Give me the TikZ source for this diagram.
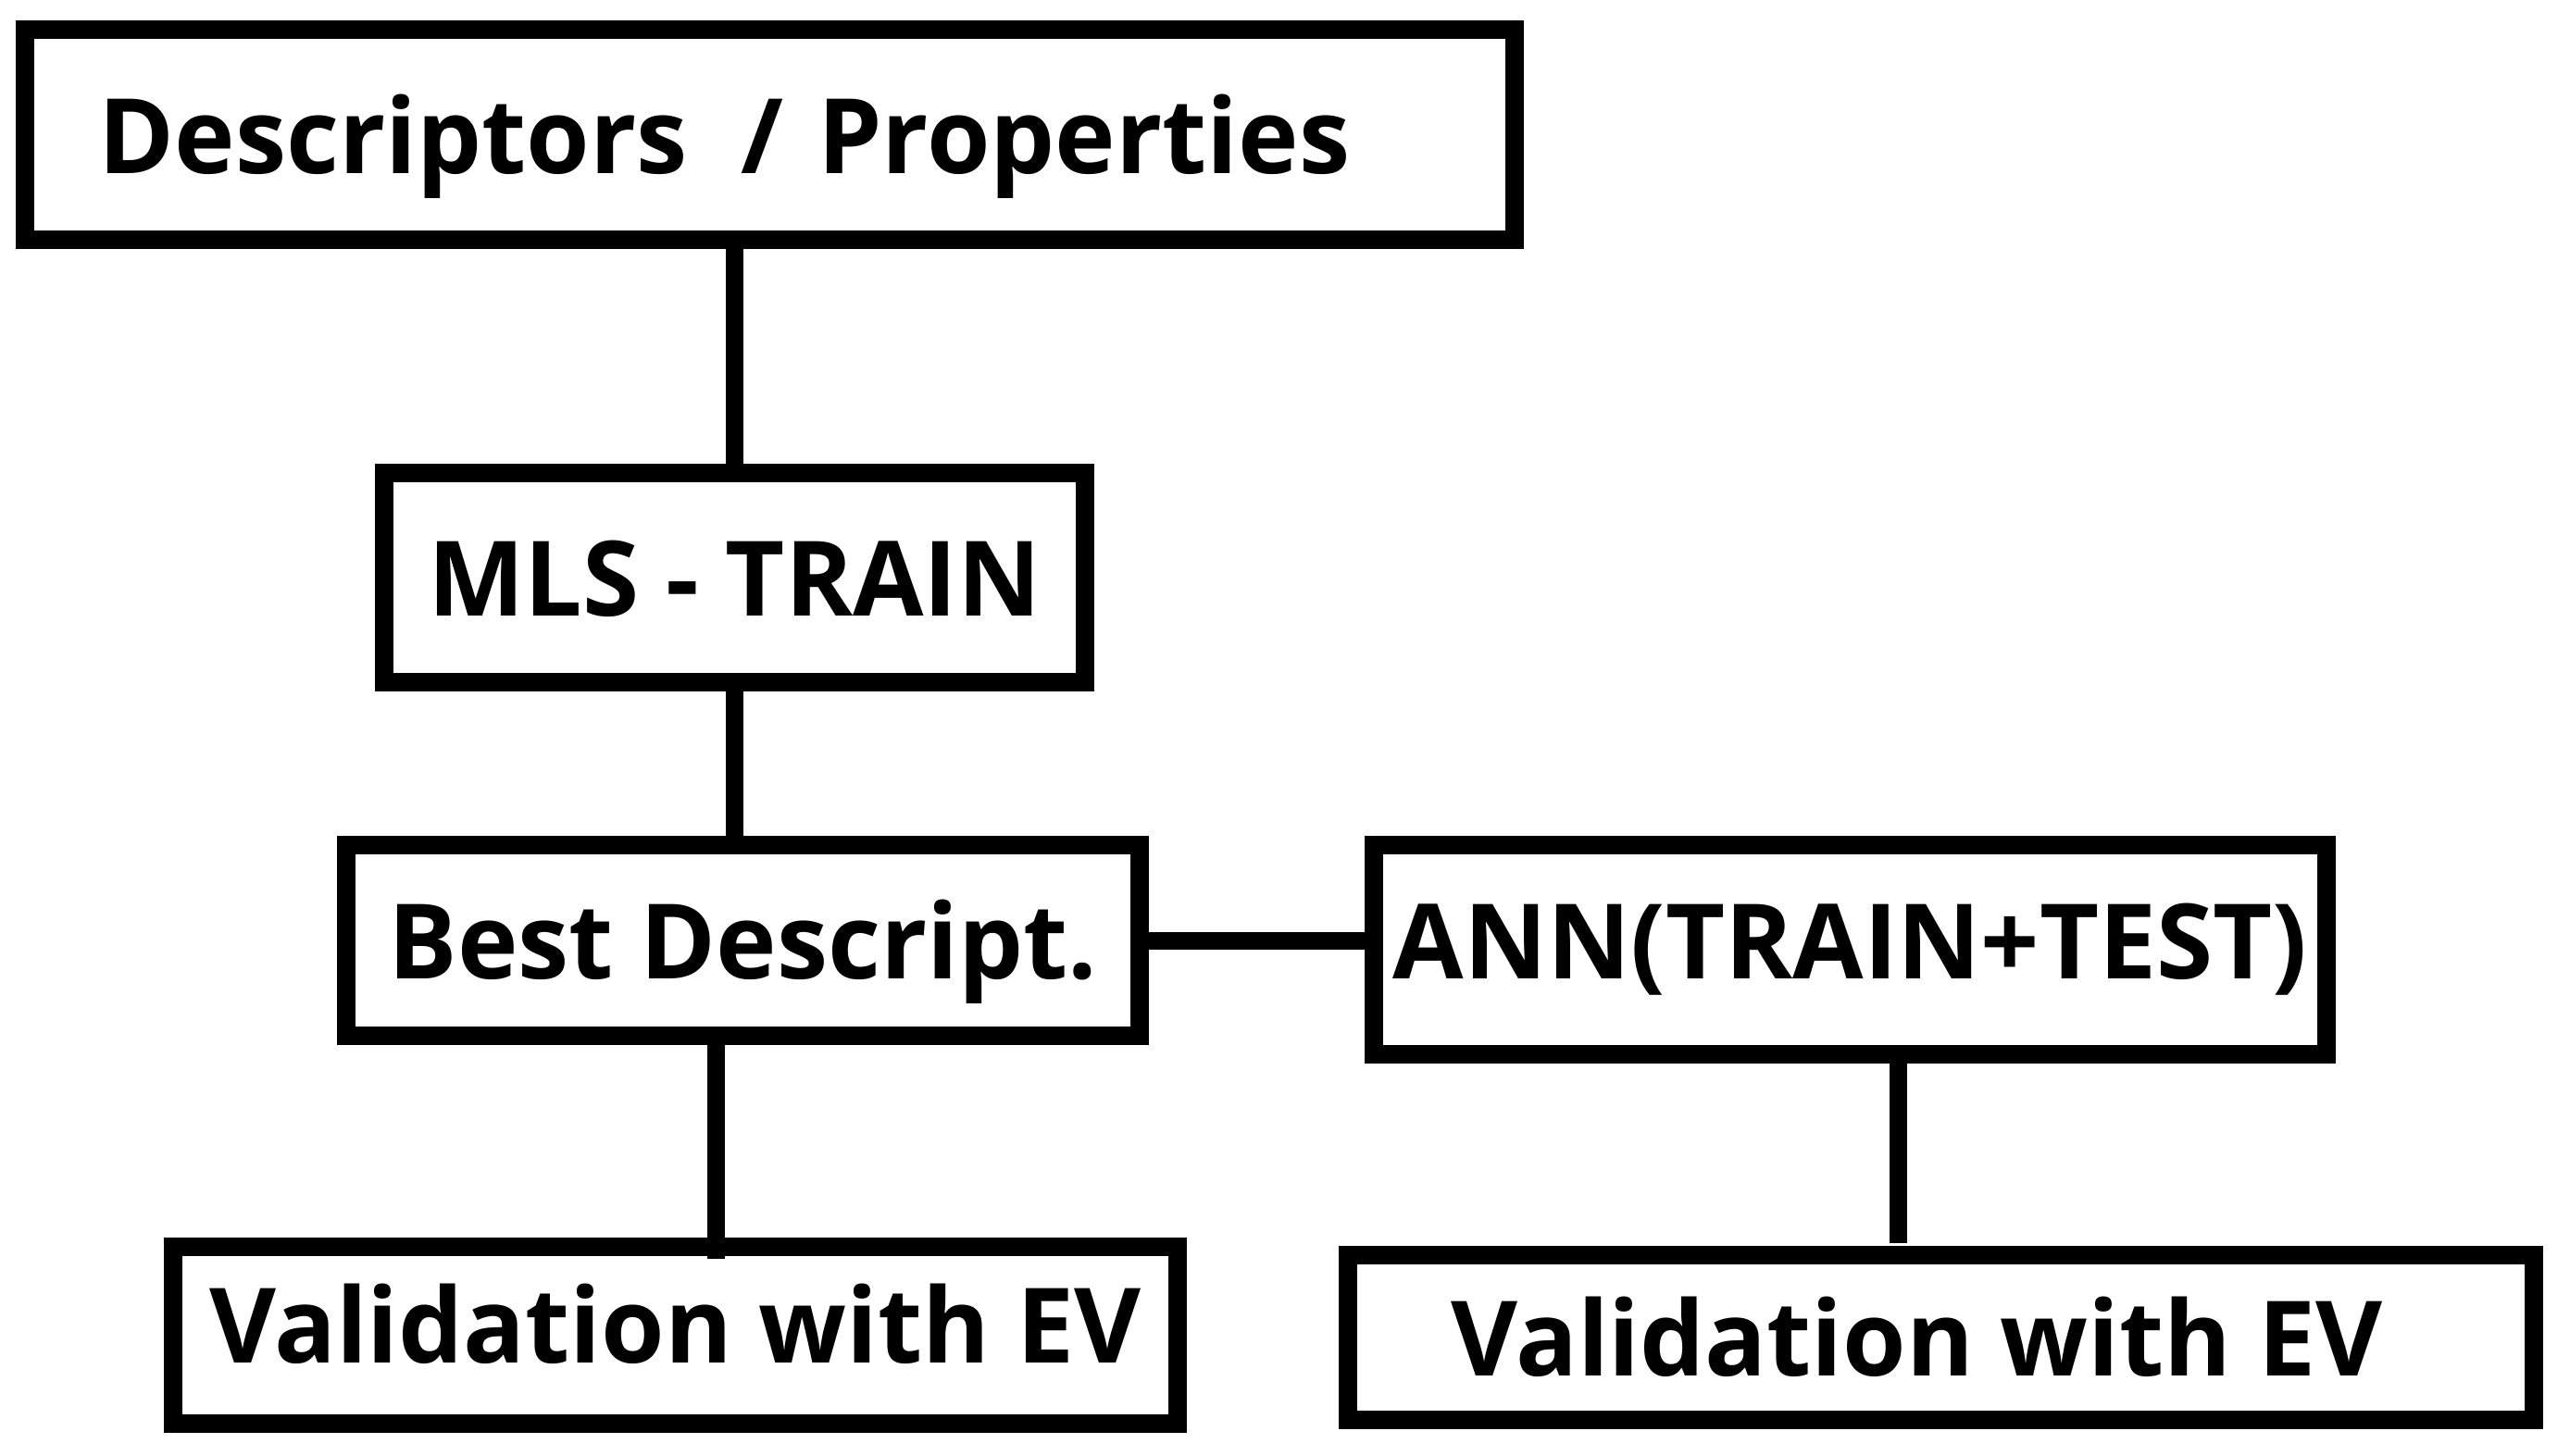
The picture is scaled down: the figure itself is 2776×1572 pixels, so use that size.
\documentclass[tikz,border=0pt]{standalone}
\usepackage{fontspec}
\setmainfont{Open Sans}[FakeStretch=0.985]
\usepackage{tikz}
\usetikzlibrary{positioning}

\begin{document}
\begin{tikzpicture}[x=0.01cm, y=-0.01cm,
	box/.style={draw, line width=0.2cm, inner sep=0pt, text height=0.83cm, text depth=0pt, font=\fontsize{32}{36}\selectfont\bfseries},
	link/.style={line width=0.19cm}]
\useasboundingbox (0,0) rectangle (2776,1572);
\node[box, minimum width=16.09cm, minimum height=2.27cm, text width=14.49cm, align=left] (desc) at (831.5,145.5) {Descriptors\hspace*{0.2cm} / Properties};
\node[box, minimum width=7.57cm, minimum height=2.26cm] (mls) at (793.5,624) {MLS - TRAIN};
\node[box, minimum width=8.57cm, minimum height=2.06cm] (best) at (802.5,1016) {Best Descript.};
\node[box, minimum width=10.29cm, minimum height=2.26cm, text depth=0.2cm] (ann) at (1998.5,1026) {ANN(TRAIN+TEST)};
\node[box, minimum width=10.85cm, minimum height=1.91cm, text depth=0.24cm] (val1) at (729.5,1442.5) {Validation with EV};
\node[box, minimum width=12.81cm, minimum height=1.78cm] (val2) at (2096.5,1445) {\hspace*{-0.52cm}Validation with EV};
\coordinate (j1) at (773,1360);
\coordinate (j2) at (2050,1343);
\draw[link]	(mls.north |- desc.south) -- (mls.north)
		(mls.south) -- (mls.south |- best.north)
		(best.east) -- (best.east -| ann.west)
		(j1 |- best.south) -- (j1)
		(j2 |- ann.south) -- (j2);
\end{tikzpicture}
\end{document}
